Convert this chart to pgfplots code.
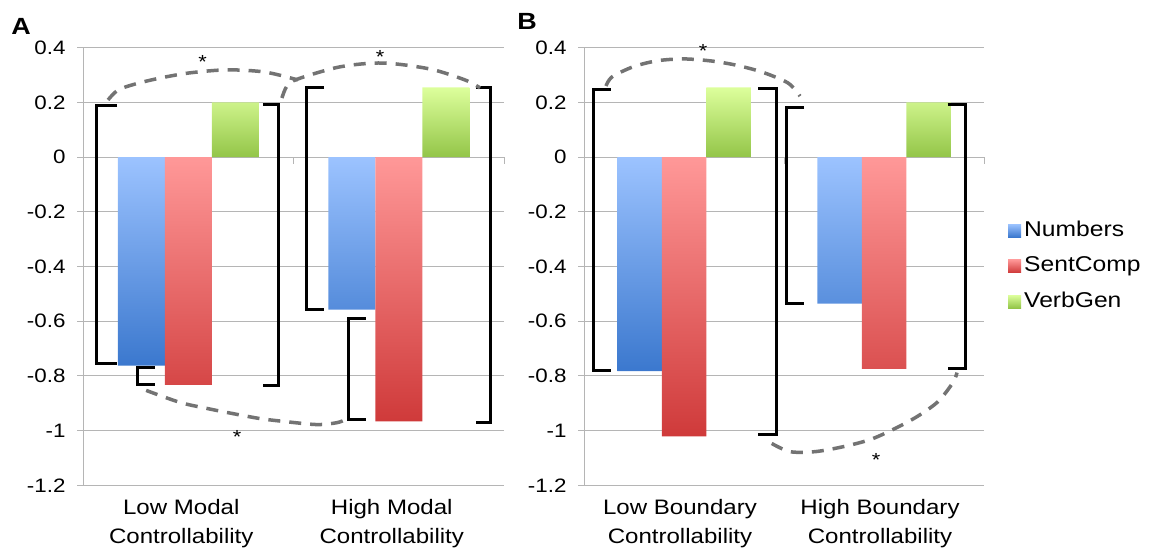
\documentclass[border=0pt]{standalone}
\usepackage{fontspec}
\setmainfont{Liberation Sans}[FakeStretch=1.15]
\usepackage{pgfplots}
\pgfplotsset{compat=1.18}

\definecolor{numTop}{HTML}{9CC3FF}
\definecolor{numBot}{HTML}{3B78CE}
\definecolor{sentTop}{HTML}{FF9898}
\definecolor{sentBot}{HTML}{CF3A3A}
\definecolor{verbTop}{HTML}{DDFF9C}
\definecolor{verbBot}{HTML}{93C548}
\definecolor{gridc}{HTML}{B5B5B5}
\definecolor{arcc}{HTML}{737373}

\tikzset{
  brk/.style={line width=3bp, black},
  ast/.style={font=\fontsize{19}{19}\selectfont, yshift=-4bp},
}

\pgfplotsset{
  panel/.style={
    scale only axis,
    height=437.6bp,
    xmin=-0.5, xmax=1.5,
    ymin=-1.2, ymax=0.4,
    clip=false,
    axis y line*=left,
    axis x line*=bottom,
    axis line style={gridc, line width=1bp},
    ymajorgrids,
    grid style={gridc, line width=1bp},
    ytick={-1.2,-1,-0.8,-0.6,-0.4,-0.2,0,0.2,0.4},
    yticklabels={-1.2,-1,-0.8,-0.6,-0.4,-0.2,0,0.2,0.4},
    /pgf/number format/assume math mode=true,
    tick align=outside,
    major tick length=6bp,
    ytick style={gridc, line width=1bp},
    xtick={0,1},
    xtick style={draw=none},
    yticklabel style={font=\fontsize{19.5}{19.5}\selectfont, anchor=east, xshift=-8bp},
    xticklabel style={font=\fontsize{21}{28.5}\selectfont, align=center, anchor=north, inner sep=0pt, yshift=-8bp},
    legend image code/.code={\path[##1, draw=none] (0bp,-6.5bp) rectangle (13bp,6.5bp);},
  },
  numb/.style={ybar, bar width=#1, bar shift=-#1, draw=none, top color=numTop, bottom color=numBot},
  sent/.style={ybar, bar width=#1, bar shift=0bp, draw=none, top color=sentTop, bottom color=sentBot},
  verb/.style={ybar, bar width=#1, bar shift=#1, draw=none, top color=verbTop, bottom color=verbBot},
  arc/.style={forget plot, smooth, no markers, arcc, line width=3.5bp, dash pattern=on 12bp off 9bp},
}

\begin{document}
\begin{tikzpicture}
\path[use as bounding box] (0,0) rectangle (1151bp,550bp);

% ---------------- Panel A ----------------
\begin{axis}[panel, width=421bp, at={(83bp,64.7bp)}, anchor=south west,
  xticklabels={{Low Modal\\Controllability},{High Modal\\Controllability}},
  xticklabel style={xshift=-7bp}]
\addplot[numb=47bp] coordinates {(0,-0.762) (1,-0.558)};
\addplot[sent=47bp] coordinates {(0,-0.833) (1,-0.966)};
\addplot[verb=47bp] coordinates {(0,0.200) (1,0.255)};

\draw[gridc, line width=1bp] (axis cs:0.5,0) -- ([yshift=-7bp]axis cs:0.5,0);
\draw[gridc, line width=1bp] (axis cs:1.5,0) -- ([yshift=-7bp]axis cs:1.5,0);

% brackets
\draw[brk] (axis cs:-0.338,0.187) -| (axis cs:-0.438,-0.756) -- (axis cs:-0.338,-0.756);
\draw[brk] (axis cs:0.355,0.194) -| (axis cs:0.431,-0.835) -- (axis cs:0.355,-0.835);
\draw[brk] (axis cs:-0.158,-0.77) -| (axis cs:-0.243,-0.83) -- (axis cs:-0.158,-0.83);
\draw[brk] (axis cs:0.645,0.255) -| (axis cs:0.563,-0.558) -- (axis cs:0.645,-0.558);
\draw[brk] (axis cs:0.844,-0.589) -| (axis cs:0.760,-0.961) -- (axis cs:0.844,-0.961);
\draw[brk] (axis cs:1.367,0.255) -| (axis cs:1.434,-0.969) -- (axis cs:1.367,-0.969);

% dashed arcs
\addplot[arc] coordinates {(-0.381,0.209) (-0.334,0.245) (-0.253,0.267) (-0.134,0.289) (0.008,0.308) (0.184,0.319) (0.364,0.311) (0.521,0.282)};
\addplot[arc] coordinates {(0.445,0.216) (0.469,0.260) (0.521,0.2857) (0.721,0.330) (0.925,0.344) (1.149,0.322) (1.315,0.282) (1.386,0.253)};
\addplot[arc] coordinates {(-0.200,-0.853) (-0.039,-0.897) (0.089,-0.919) (0.213,-0.938) (0.341,-0.956) (0.460,-0.967) (0.612,-0.978) (0.707,-0.971) (0.745,-0.960)};

\node[ast] at (axis cs:0.068,0.362) {*};
\node[ast] at (axis cs:0.911,0.380) {*};
\node[ast] at (axis cs:0.232,-1.007) {*};
\end{axis}

% ---------------- Panel B ----------------
\begin{axis}[panel, width=400bp, at={(584bp,64.7bp)}, anchor=south west,
  xticklabels={{Low Boundary\\Controllability},{High Boundary\\Controllability}},
  xticklabel style={xshift=-4bp},
  legend style={at={(1.06,0.501)}, anchor=west, draw=none, fill=none,
    font=\fontsize{21.5}{21.5}\selectfont, inner sep=0pt, row sep=15.5bp,
    cells={anchor=west},
    nodes={inner sep=0pt, text height=15.5bp, text depth=4.5bp}},
  legend cell align=left,
  /tikz/every odd column/.append style={column sep=3bp}]
\addplot[numb=44.5bp] coordinates {(0,-0.783) (1,-0.536)};
\addlegendentry{Numbers}
\addplot[sent=44.5bp] coordinates {(0,-1.021) (1,-0.774)};
\addlegendentry{SentComp}
\addplot[verb=44.5bp] coordinates {(0,0.255) (1,0.200)};
\addlegendentry{VerbGen}

\draw[gridc, line width=1bp] (axis cs:0.5,0) -- ([yshift=-7bp]axis cs:0.5,0);
\draw[gridc, line width=1bp] (axis cs:1.5,0) -- ([yshift=-7bp]axis cs:1.5,0);

\draw[brk] (axis cs:-0.3665,0.248) -| (axis cs:-0.4535,-0.78) -- (axis cs:-0.3665,-0.78);
\draw[brk] (axis cs:0.37,0.252) -| (axis cs:0.46,-1.016) -- (axis cs:0.37,-1.016);
\draw[brk] (axis cs:0.60,0.182) -| (axis cs:0.5135,-0.536) -- (axis cs:0.60,-0.536);
\draw[brk] (axis cs:1.3175,0.194) -| (axis cs:1.405,-0.774) -- (axis cs:1.3175,-0.774);

\addplot[arc] coordinates {(-0.39,0.260) (-0.36,0.293) (-0.255,0.330) (-0.135,0.352) (-0.005,0.359) (0.13,0.352) (0.255,0.337) (0.39,0.311) (0.52,0.271) (0.58,0.223)};
\addplot[arc] coordinates {(0.4385,-1.047) (0.53,-1.077) (0.655,-1.077) (0.795,-1.059) (0.93,-1.033) (1.045,-0.996) (1.165,-0.949) (1.27,-0.894) (1.345,-0.824) (1.365,-0.788)};

\node[ast] at (axis cs:0.095,0.403) {*};
\node[ast] at (axis cs:0.96,-1.092) {*};
\end{axis}

\node[font=\bfseries\fontsize{23.5}{23.5}\selectfont] at (21bp,523.5bp) {A};
\node[font=\bfseries\fontsize{23.5}{23.5}\selectfont] at (527bp,528.3bp) {B};
\end{tikzpicture}
\end{document}
